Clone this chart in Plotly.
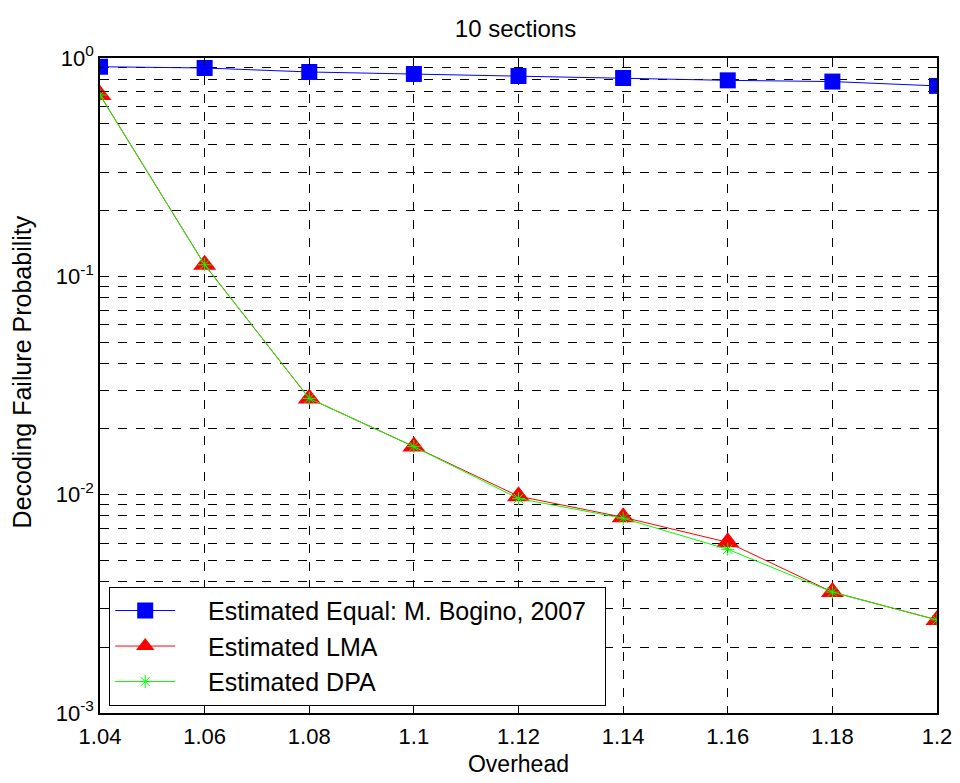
import plotly.graph_objects as go

overhead = [1.04, 1.06, 1.08, 1.10, 1.12, 1.14, 1.16, 1.18, 1.20]
equal_vals = [0.912, 0.90, 0.863, 0.845, 0.827, 0.81, 0.79, 0.78, 0.745]
lma_vals = [0.677, 0.113, 0.0276, 0.0166, 0.00984, 0.00788, 0.00605, 0.00358, 0.00267]
dpa_vals = [0.677, 0.113, 0.0276, 0.0166, 0.00960, 0.00780, 0.00562, 0.00358, 0.00267]

x_ticks = [1.04, 1.06, 1.08, 1.1, 1.12, 1.14, 1.16, 1.18, 1.2]
x_ticklabels = ["1.04", "1.06", "1.08", "1.1", "1.12", "1.14", "1.16", "1.18", "1.2"]
y_ticks = [1e-3, 1e-2, 1e-1, 1]
y_ticklabels = ["10<sup>-3</sup>", "10<sup>-2</sup>", "10<sup>-1</sup>", "10<sup>0</sup>"]

FONT = "Liberation Sans, Arial, sans-serif"
PAD = "\u00a0\u00a0\u00a0\u00a0"
TAIL = "\u00a0\u00a0"

fig = go.Figure()
fig.add_trace(go.Scatter(x=overhead, y=equal_vals, mode="lines+markers",
                         name=PAD + "Estimated Equal: M. Bogino, 2007" + TAIL,
                         line=dict(color="#0000ff", width=1),
                         marker=dict(symbol="square", size=16, color="#0000ff")))
fig.add_trace(go.Scatter(x=overhead, y=lma_vals, mode="lines+markers",
                         name=PAD + "Estimated LMA",
                         line=dict(color="#ff0000", width=1),
                         marker=dict(symbol="triangle-up", size=20, color="#ff0000")))
fig.add_trace(go.Scatter(x=overhead, y=dpa_vals, mode="lines+markers",
                         name=PAD + "Estimated DPA",
                         line=dict(color="#00ff00", width=1),
                         marker=dict(symbol="asterisk-open", size=11,
                                     line=dict(color="#00ff00", width=1))))

axis_common = dict(showline=True, linecolor="black", linewidth=1.5, mirror="ticks",
                   ticks="inside", ticklen=7, tickcolor="black",
                   showgrid=True, gridcolor="black", griddash="dash", gridwidth=1,
                   zeroline=False, automargin=False,
                   tickfont=dict(family=FONT, size=22, color="black"))

fig.update_xaxes(range=[1.04, 1.2], tickvals=x_ticks, ticktext=x_ticklabels,
                 ticklabelstandoff=3,
                 title=dict(text="Overhead", font=dict(family=FONT, size=23, color="black"), standoff=8),
                 **axis_common)
fig.update_yaxes(type="log", range=[-3, 0], tickvals=y_ticks, ticktext=y_ticklabels,
                 minor=dict(dtick="D1", showgrid=True, gridcolor="black", griddash="dash",
                            gridwidth=1, ticks="inside", ticklen=4, tickcolor="black"),
                 **axis_common)

fig.add_annotation(text="Decoding Failure Probability", textangle=-90,
                   xref="paper", yref="paper", x=0, y=0.52, xanchor="center", yanchor="middle",
                   xshift=-78, showarrow=False,
                   font=dict(family=FONT, size=25, color="black"))

fig.update_layout(
    width=960, height=783,
    margin=dict(l=100, r=23, t=58, b=70),
    paper_bgcolor="white", plot_bgcolor="white",
    font=dict(family=FONT, size=22, color="black"),
    title=dict(text="10 sections", x=0.537, xanchor="center", y=0.964, yanchor="middle",
               font=dict(family=FONT, size=24, color="black")),
    legend=dict(x=0.011, y=0.011, xanchor="left", yanchor="bottom",
                bgcolor="white", bordercolor="black", borderwidth=1,
                font=dict(family=FONT, size=25, color="black"),
                itemwidth=60, tracegroupgap=0),
    showlegend=True,
)

fig.write_html("out.html", config={"displayModeBar": False},
               post_script="document.body.style.margin='0';")
